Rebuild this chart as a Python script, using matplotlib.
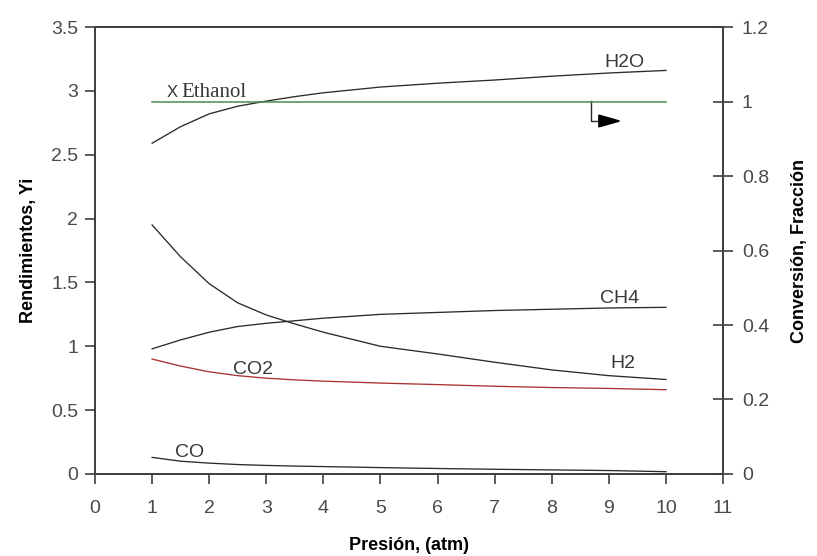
import matplotlib.pyplot as plt

# Data
presion = [1, 1.5, 2, 2.5, 3, 3.5, 4, 5, 6, 7, 8, 9, 10]
h2o = [2.59, 2.72, 2.82, 2.88, 2.92, 2.955, 2.985, 3.03, 3.06, 3.085, 3.115, 3.14, 3.16]
h2 = [1.95, 1.70, 1.49, 1.34, 1.245, 1.175, 1.11, 1.00, 0.94, 0.875, 0.815, 0.77, 0.74]
ch4 = [0.98, 1.05, 1.11, 1.155, 1.18, 1.20, 1.22, 1.25, 1.265, 1.28, 1.29, 1.30, 1.305]
co2 = [0.90, 0.845, 0.80, 0.77, 0.75, 0.737, 0.727, 0.712, 0.70, 0.687, 0.677, 0.67, 0.66]
co = [0.13, 0.10, 0.085, 0.074, 0.067, 0.062, 0.058, 0.05, 0.043, 0.037, 0.032, 0.027, 0.018]
x_ethanol = [1.0] * len(presion)

x_ticks = list(range(0, 12))
y_ticks = [0, 0.5, 1, 1.5, 2, 2.5, 3, 3.5]
y_labels = ['0', '0.5', '1', '1.5', '2', '2.5', '3', '3.5']
y2_ticks = [0, 0.2, 0.4, 0.6, 0.8, 1.0, 1.2]
y2_labels = ['0', '0.2', '0.4', '0.6', '0.8', '1', '1.2']

plt.rcParams['font.family'] = ['Liberation Sans', 'DejaVu Sans']

fig = plt.figure(figsize=(8.17, 5.56), dpi=100)
ax = fig.add_axes([0.1163, 0.1475, 0.7687, 0.8039])
ax2 = ax.twinx()

lw = 0.95
dark = '#2a2a2a'
ax.plot(presion, h2o, color=dark, lw=lw)
ax.plot(presion, h2, color=dark, lw=lw)
ax.plot(presion, ch4, color=dark, lw=lw)
ax.plot(presion, co2, color='#a83232', lw=lw)
ax.plot(presion, co, color=dark, lw=lw)
ax2.plot(presion, x_ethanol, color='#4a8a4a', lw=1.1)

ax.set_xlim(0, 11)
ax.set_ylim(0, 3.5)
ax2.set_ylim(0, 1.2)
ax.set_xticks(x_ticks)
ax.set_yticks(y_ticks)
ax.set_yticklabels(y_labels)
ax2.set_yticks(y2_ticks)
ax2.set_yticklabels(y2_labels)

tick_col = '#4a4a4a'
ax.tick_params(axis='both', direction='out', length=7, width=1.2, color='#404040',
               labelcolor=tick_col, labelsize=14, pad=5)
ax.tick_params(axis='x', pad=12)
ax2.tick_params(axis='y', direction='inout', length=15, width=1.2, color='#404040',
                labelcolor=tick_col, labelsize=14, pad=6)
for a in (ax, ax2):
    for s in a.spines.values():
        s.set_color('#404040')
        s.set_linewidth(1.3)

ax.set_xlabel('Presión, (atm)', fontsize=13, fontweight='bold', labelpad=14)
ax.set_ylabel('Rendimientos, Yi', fontsize=13, fontweight='bold', labelpad=10)
ax2.set_ylabel('Conversión, Fracción', fontsize=13, fontweight='bold', labelpad=16)

# curve labels
txt = dict(fontsize=14, color='#383838', va='baseline')
ax.text(8.93, 3.19, 'H2O', **txt)
ax.text(8.84, 1.34, 'CH4', **txt)
ax.text(9.02, 0.83, 'H2', **txt)
ax.text(2.42, 0.785, 'CO2', **txt)
ax.text(1.40, 0.135, 'CO', **txt)
ax.text(1.26, 2.95, 'X', fontsize=12, color='#383838', va='baseline')
ax.text(1.51, 2.95, 'Ethanol', fontsize=15, color='#383838', va='baseline',
        family='Liberation Serif')

# arrow pointing to the right axis
ax.plot([8.69, 8.69, 9.0], [2.917, 2.764, 2.764], color=dark, lw=1.0)
ax.annotate('', xy=(9.28, 2.764), xytext=(8.9, 2.764),
            arrowprops=dict(arrowstyle='-|>,head_length=0.7,head_width=0.2',
                            color='black', lw=1.4, mutation_scale=20))

fig.savefig('out.png', dpi=100)
